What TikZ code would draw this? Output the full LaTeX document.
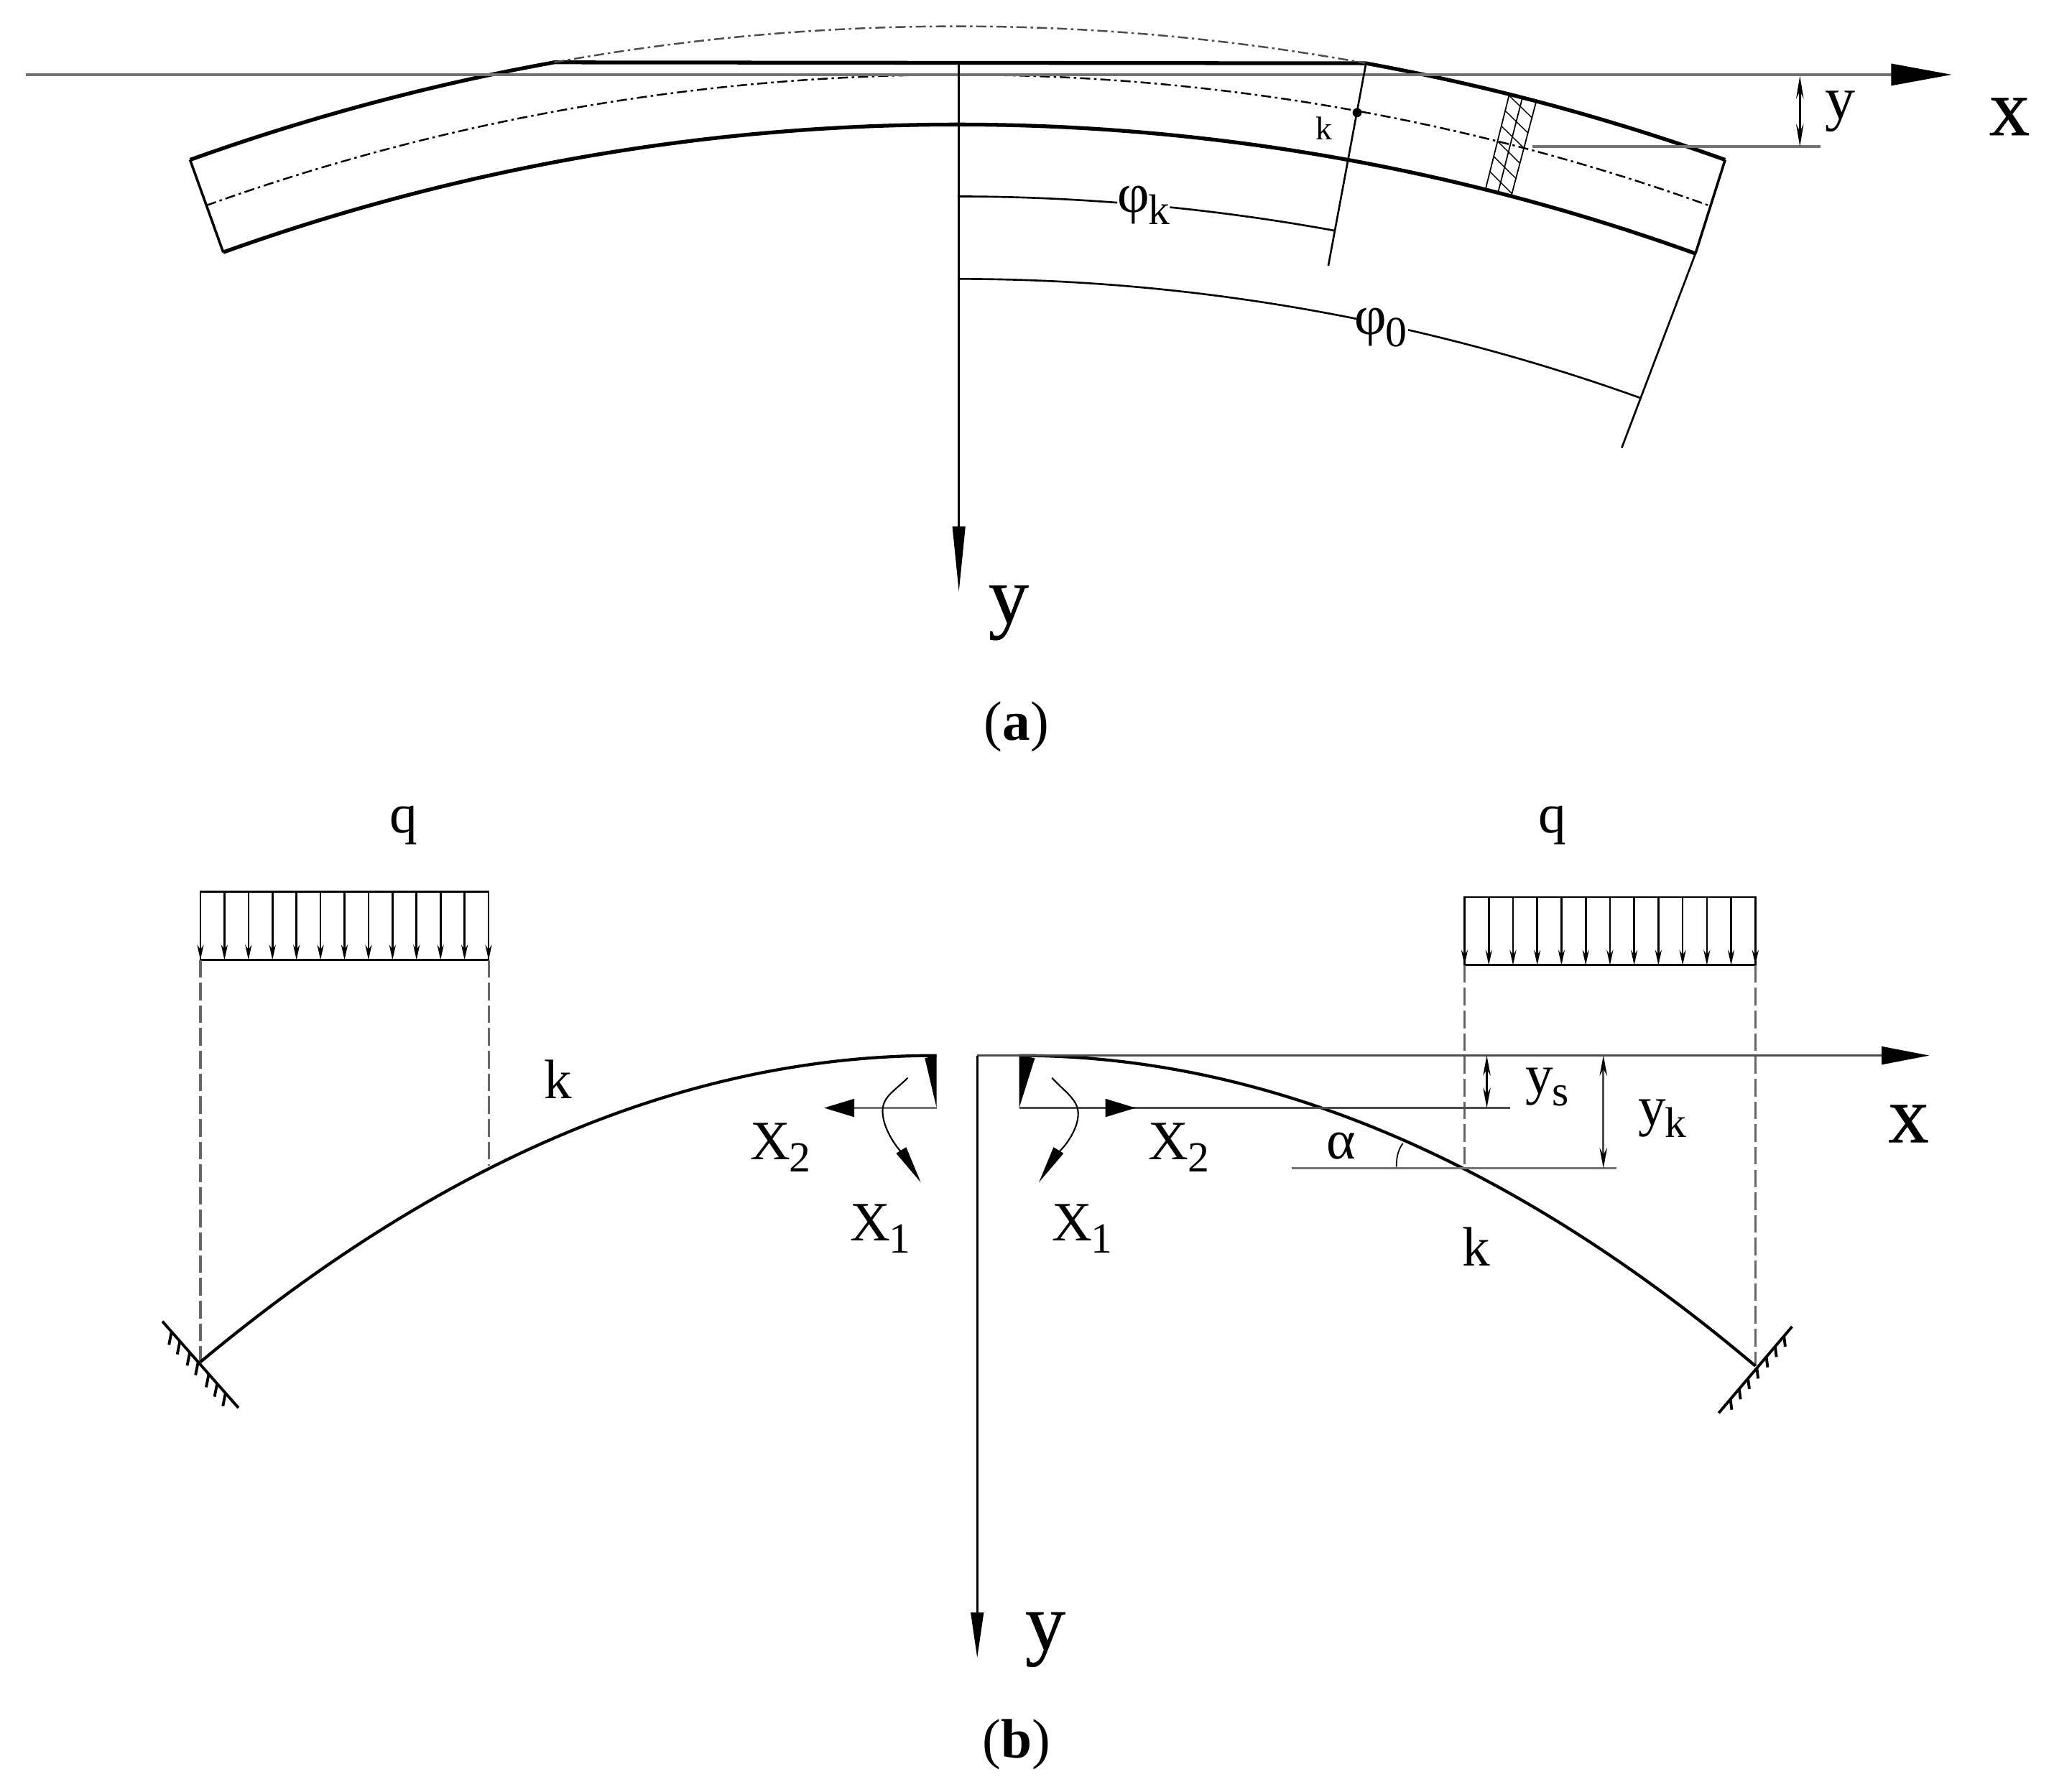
\documentclass[tikz,border=0pt]{standalone}
\usepackage{fontspec}
\setmainfont{Liberation Serif}
\newfontfamily\heavyfont[FakeBold=0.5]{Liberation Serif}
\usetikzlibrary{arrows.meta, calc, positioning}
\newcommand{\lowsub}[1]{\raisebox{-0.22em}{\kern-0.02em\fontsize{17}{17}\selectfont #1}}
\tikzset{
        beam/.style={line width=1.5pt},
        plain/.style={line width=0.75pt},
        grayline/.style={line width=1pt, color=black!55},
        centre/.style={line width=0.7pt, dash pattern=on 4pt off 1.5pt on 1pt off 1.5pt},
        longdash/.style={line width=0.9pt, color=black!60, dash pattern=on 7pt off 2pt},
        bigtip/.style={-{Triangle[length=24pt, width=8.5pt, color=black]}},
        downtip/.style={-{Triangle[length=26pt, width=5pt, color=black]}},
        smalltip/.style={{Stealth[length=9pt, width=3pt, color=black]}-{Stealth[length=9pt, width=3pt, color=black]}},
        loadtip/.style={plain, -{Stealth[length=6pt, width=2.6pt]}},
        swing/.style={line width=0.6pt, -{Triangle[length=15pt, width=4.5pt]}},
        anchorline/.style={line width=1.1pt},
        lab/.style={font=\fontsize{22}{22}\selectfont, inner sep=0pt},
        biglab/.style={font=\fontsize{32}{32}\heavyfont, inner sep=0pt},
        tinylab/.style={font=\fontsize{13}{13}\selectfont, inner sep=0pt},
        caption/.style={font=\fontsize{22}{22}\selectfont, inner sep=0pt}
}
\begin{document}
\begin{tikzpicture}[x=0.18233mm, y=-0.18233mm]
        \useasboundingbox (0,0) rectangle (1568,1368);

        \coordinate (C) at (731,1754);
        \coordinate (TL) at ([shift={(C)}]-109.75:1734);
        \coordinate (T1) at ([shift={(C)}]-100.23:1734);
        \coordinate (T2) at ([shift={(C)}]-79.64:1734);
        \coordinate (TR) at ([shift={(C)}]-70.25:1734);
        \coordinate (BL) at ([shift={(C)}]-109.75:1659);
        \coordinate (BR) at ([shift={(C)}]-70.15:1659);
        \coordinate (ML) at ([shift={(C)}]-109.75:1697);
        \coordinate (R1) at (1014,203);
        \coordinate (R2) at (1238,342);
        \coordinate (XA) at (20,57);
        \coordinate (XB) at (1490,57);
        \coordinate (YA) at (732,47);
        \coordinate (YB) at (732,452);

        \draw [beam] (TL) arc [start angle=-109.75, end angle=-100.23, radius=1734] -- (T2) arc [start angle=-79.64, end angle=-70.25, radius=1734];
        \draw [beam] (BR) arc [start angle=-70.15, end angle=-109.75, radius=1659];
        \draw [plain, line width=1pt] (TL) -- (BL);
        \draw [plain, line width=1pt] (TR) -- (BR);
        \draw [centre, black!70] (T1) arc [start angle=-100.23, end angle=-79.64, radius=1734];
        \draw [centre] (ML) arc [start angle=-109.75, end angle=-70.25, radius=1697];
        \draw [grayline, bigtip] (XA) -- (XB);
        \draw [plain, downtip] (YA) -- (YB);
        \draw [plain] (T2) -- (R1);
        \draw [plain] (BR) -- (R2);

        \draw [plain] ([shift={(C)}]-90:1604) arc [start angle=-90, end angle=-85.64, radius=1604];
        \draw [plain] ([shift={(C)}]-84.2:1604) arc [start angle=-84.2, end angle=-79.64, radius=1604];
        \draw [plain] ([shift={(C)}]-90:1541) arc [start angle=-90, end angle=-78.6, radius=1541];
        \draw [plain] ([shift={(C)}]-77.1:1541) arc [start angle=-77.1, end angle=-70.25, radius=1541];

        \draw [line width=0.5pt] ([shift={(C)}]-75.94:1659) -- ([shift={(C)}]-75.94:1734);
        \draw [line width=0.5pt] ([shift={(C)}]-75.6:1659) -- ([shift={(C)}]-75.6:1734);
        \draw [line width=0.5pt] ([shift={(C)}]-75.24:1659) -- ([shift={(C)}]-75.24:1734);
        \foreach \r in {1667,1679,...,1727} {
                \draw [line width=0.4pt] ([shift={(C)}]-75.94:\r+6) -- ([shift={(C)}]-75.24:\r-6);
        }

        \coordinate (S1) at (1170,112);
        \coordinate (S2) at (1390,112);
        \coordinate (S3) at (1374,58);
        \coordinate (S4) at (1374,112);
        \draw [grayline] (S1) -- (S2);
        \draw [plain, smalltip] (S3) -- (S4);
        \fill (1036,86) circle [radius=3.5];

        \node [tinylab] (kA) at (1011,98) { k };
        \node [lab] (phik) at (873,157) { φ\lowsub{k} };
        \node [lab] (phi0) at (1054,250) { φ\lowsub{0} };
        \node [lab, font=\fontsize{24}{24}\selectfont] (yA) at (1405,85) { y };
        \node [biglab] (xA) at (1534,89) { x };
        \node [biglab] (yB) at (770,468) { y };
        \node [caption] (capA) at (776,555) { (\textbf{a}) };

        \coordinate (LA) at (153,681);
        \coordinate (LB) at (373,681);
        \coordinate (LC) at (373,733);
        \coordinate (LD) at (153,733);
        \coordinate (LE) at (153,1040);
        \coordinate (LF) at (373,890);
        \draw [plain] (LA) -- (LB) -- (LC) -- (LD) -- cycle;
        \foreach \i in {0,...,12} {
                \draw [loadtip] ($(LA)+(\i*18.33,0)$) -- ($(LD)+(\i*18.33,0)$);
        }
        \draw [longdash] (LD) -- (LE);
        \draw [longdash] (LC) -- (LF);

        \coordinate (RA) at (1118,685);
        \coordinate (RB) at (1340,685);
        \coordinate (RC) at (1340,737);
        \coordinate (RD) at (1118,737);
        \coordinate (RE) at (1340,1043);
        \coordinate (RF) at (1118,892);
        \draw [plain] (RA) -- (RB) -- (RC) -- (RD) -- cycle;
        \foreach \i in {0,...,12} {
                \draw [loadtip] ($(RA)+(\i*18.5,0)$) -- ($(RD)+(\i*18.5,0)$);
        }
        \draw [longdash] (RD) -- (RF);
        \draw [longdash] (RC) -- (RE);

        \coordinate (CL) at (715,806);
        \coordinate (CR) at (778,806);
        \draw [beam, line width=1.2pt] (LE) .. controls (340,884) and (527,806) .. (CL);
        \draw [beam, line width=1.2pt] (CR) .. controls (965,806) and (1153,885) .. (RE);

        \coordinate (WL) at (715,846);
        \coordinate (WR) at (778,846);
        \fill (706,808) -- (CL) -- (WL) -- cycle;
        \fill (790,808) -- (CR) -- (WR) -- cycle;
        \coordinate (AL) at (629,846);
        \coordinate (AR) at (867,846);
        \coordinate (AE) at (1153,846);
        \draw [grayline, -{Triangle[length=12pt, width=7pt, color=black]}] (WL) -- (AL);
        \draw [grayline, black!70] (WR) -- (AE);
        \draw [grayline, black!70, -{Triangle[length=12pt, width=7pt, color=black]}] (WR) -- (AR);
        \draw [swing] (693,823) .. controls (682,834) and (672,838) .. (674,852) .. controls (676,868) and (692,885) .. (703,903);
        \draw [swing] (803,823) .. controls (813,834) and (824,840) .. (823,852) .. controls (822,868) and (804,885) .. (793,903);

        \coordinate (BXA) at (746,806);
        \coordinate (BXB) at (1473,806);
        \coordinate (BYB) at (746,1266);
        \draw [grayline, black!70, -{Triangle[length=19pt, width=7pt, color=black]}] (BXA) -- (BXB);
        \draw [plain, -{Triangle[length=18pt, width=5pt, color=black]}] (BXA) -- (BYB);

        \coordinate (H1) at (986,892);
        \coordinate (H2) at (1234,892);
        \coordinate (D1) at (1135,806);
        \coordinate (D2) at (1135,846);
        \coordinate (D3) at (1224,806);
        \coordinate (D4) at (1224,892);
        \draw [grayline] (H1) -- (H2);
        \draw [line width=0.6pt, {Stealth[length=8pt, width=3pt]}-{Stealth[length=8pt, width=3pt]}] (D1) -- (D2);
        \draw [plain, black!70, {Stealth[length=8pt, width=3pt, color=black]}-{Stealth[length=8pt, width=3pt, color=black]}] (D3) -- (D4);
        \draw [line width=0.5pt] (1066,891) .. controls (1066,882) and (1068,877) .. (1071,873);

        \coordinate (AN1) at (124,1009);
        \coordinate (AN2) at (182,1075);
        \draw [anchorline] (AN1) -- (AN2);
        \foreach \t in {0.12,0.23,0.36,0.47,0.61,0.72,0.83} {
                \draw [anchorline] ($(AN1)!\t!(AN2)$) -- ++(-2,10);
        }
        \coordinate (AN3) at (1312,1079);
        \coordinate (AN4) at (1368,1013);
        \draw [anchorline] (AN3) -- (AN4);
        \foreach \t in {0.16,0.28,0.4,0.52,0.65,0.77,0.89} {
                \draw [anchorline] ($(AN3)!\t!(AN4)$) -- ++(1,8);
        }

        \node [lab] (qL) at (308,630) { q };
        \node [lab] (qR) at (1185,630) { q };
        \node [lab] (kL) at (426,824) { k };
        \node [lab] (kR) at (1127,952) { k };
        \node [lab] (Xtwo) at (596,876) { X\lowsub{2} };
        \node [lab] (Xone) at (672,938) { X\lowsub{1} };
        \node [lab] (XtwoR) at (900,876) { X\lowsub{2} };
        \node [lab] (XoneR) at (826,938) { X\lowsub{1} };
        \node [lab] (alpha) at (1024,875) { α };
        \node [lab] (ys) at (1181,830) { y\lowsub{s} };
        \node [lab] (yk) at (1269,854) { y\lowsub{k} };
        \node [biglab] (xB) at (1457,858) { x };
        \node [biglab] (yC) at (798,1252) { y };
        \node [caption] (capB) at (776,1332) { (\textbf{b}) };
\end{tikzpicture}
\end{document}
